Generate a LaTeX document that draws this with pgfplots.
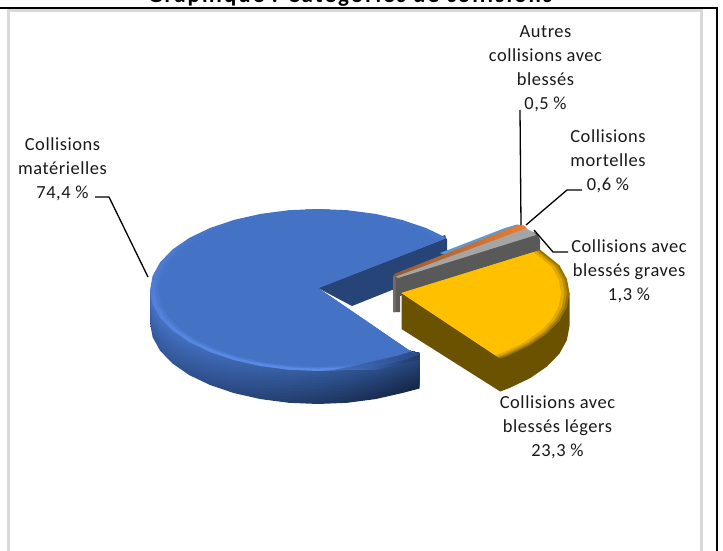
\documentclass[border=0pt]{standalone}
\usepackage{fontspec}
\setmainfont{Carlito}
\newfontfamily\labfont[LetterSpace=3]{Carlito}
\newfontfamily\titfont[LetterSpace=9,BoldFont=Carlito Bold]{Carlito}
\usepackage{pgfplots}
\usepackage{pgfplotstable}
\pgfplotsset{compat=1.18}
\definecolor{bTop}{HTML}{4472C4}
\definecolor{bHi}{HTML}{5A8CE6}
\definecolor{bMid}{HTML}{4D7ED4}
\definecolor{bCut}{HTML}{264478}
\definecolor{bDark}{HTML}{20396B}
\definecolor{sAL}{HTML}{4472C4}
\definecolor{sAM}{HTML}{3A62AC}
\definecolor{sAR}{HTML}{284A80}
\definecolor{sBL}{HTML}{35599C}
\definecolor{sBM}{HTML}{223C70}
\definecolor{sBR}{HTML}{152647}
\definecolor{yTop}{HTML}{FFC000}
\definecolor{ySide}{HTML}{6B5200}
\definecolor{frameGrey}{HTML}{D9D9D9}
\tikzset{lab/.style={font=\labfont\fontsize{18.5}{24}\selectfont, align=center, inner sep=0pt, text=black!90}}
\pgfplotstableread{
dx dy
0 -2
128.7 -52.1
108.0 -62.0
84.0 -70.1
57.5 -76.1
29.2 -79.8
0 -81
-29.2 -79.8
-57.5 -76.1
-84.0 -70.1
-108.0 -62.0
-128.7 -52.1
-145.5 -40.5
-157.9 -27.7
-165.4 -14.1
-168 0
-165.4 14.1
-157.9 27.7
-145.5 40.5
-128.7 52.1
-108.0 62.0
-84.0 70.1
-57.5 76.1
-29.2 79.8
0 81
29.2 79.8
57.5 76.1
84.0 70.1
98.7 65.5
}\blueTop
\pgfplotstableread{
dx dy s
-168 0 1
-165.4 14.1 1
-157.9 27.7 1
-145.5 40.5 1
-128.7 52.1 1
-108.0 62.0 1
-84.0 70.1 1
-57.5 76.1 1
-29.2 79.8 1
0 81 1
29.2 79.8 1
57.5 76.1 1
84.0 70.1 1
101.5 65.5 1
101.5 63 0
-168 0 0
}\blueSide
\pgfplotstableread{
dx dy
0 0
139 -43
157.9 -27.7
165.4 -14.1
168 0
165.4 14.1
157.9 27.7
145.5 40.5
128.7 52.1
108.0 62.0
98.7 65.5
}\yellowTop
\newcommand{\sideLayer}[2]{%
\addplot[draw=none, left color=sAL!#2!sBL, middle color=sAM!#2!sBM, right color=sAR!#2!sBR] table[x expr=318+\thisrow{dx}, y expr=290+\thisrow{dy}+#1*\thisrow{s}] \blueSide;}
\begin{document}
\begin{tikzpicture}
\path[use as bounding box] (0,0) rectangle (723bp,551bp);
\clip (0,0) rectangle (723bp,551bp);
\begin{axis}[
  at={(0,0)}, anchor=south west, scale only axis,
  width=723bp, height=551bp,
  xmin=0, xmax=723, ymin=0, ymax=551, y dir=reverse,
  axis lines=none, clip=false,
  every axis plot/.append style={no markers},
]
\node[anchor=base, inner sep=0pt, font=\titfont\fontsize{23}{26}\selectfont\bfseries] at (axis cs:350,2.5) {Graphique : Catégories de collisions};
% frame
\addplot[frameGrey, line width=2.7bp] coordinates {(8.7,551) (8.7,10.5) (701.7,10.5) (701.7,551)};
\addplot[black, line width=2bp] coordinates {(0,7.7) (717.3,7.7) (717.3,551)};
% blue cut face
\addplot[fill=bCut, draw=none] coordinates {(318,288) (445,235) (447,240) (447,268) (352,306)};
% blue side layers
\sideLayer{33}{0}
\sideLayer{30}{10}
\sideLayer{27}{20}
\sideLayer{24}{30}
\sideLayer{21}{40}
\sideLayer{18}{50}
\sideLayer{15}{60}
\sideLayer{12}{70}
\sideLayer{9}{80}
\sideLayer{6}{90}
\sideLayer{3}{100}
% blue top
\addplot[fill=bTop!60!white, draw=none] coordinates {(305,208.6) (330,208.6) (330,210) (305,210)};
\addplot[draw=none, top color=bTop, middle color=bTop, bottom color=bHi] table[x expr=318+\thisrow{dx}, y expr=290+\thisrow{dy}] \blueTop;
\addplot[draw=none, top color=bTop, middle color=bTop, bottom color=bHi] table[x expr=318+0.985*\thisrow{dx}, y expr=290+0.985*\thisrow{dy}] \blueTop;
\addplot[draw=none, top color=bTop, middle color=bTop, bottom color=bMid] table[x expr=318+0.97*\thisrow{dx}, y expr=290+0.97*\thisrow{dy}] \blueTop;
\addplot[draw=none, fill=bTop] table[x expr=318+0.95*\thisrow{dx}, y expr=290+0.95*\thisrow{dy}] \blueTop;
% rim darkening towards the lower cut
\addplot[draw=none, left color=bTop, right color=bDark] coordinates {(347.2,369.8) (375.5,366.1) (402,360.1) (416.7,355.5) (419.5,355.5) (419.5,360) (402,364) (375.5,370) (347.2,369.8)};
\addplot[draw=none, left color=bTop, right color=bDark!70!bTop] coordinates {(330,370.5) (347.2,369.8) (375.5,366.1) (402,360.1) (416.7,355.5) (410.8,351.6) (397,355.9) (372,361.5) (350,366.5)};
% exploded small slices
\addplot[fill=black!65, draw=none] coordinates {(393,276) (534,232) (538,235) (540,240) (540,252) (400,296) (400,312) (393,312)};
\addplot[fill={rgb,255:red,122;green,106;blue,96}, draw=none] coordinates {(393,276) (395.5,275) (395.5,312) (393,312)};
\addplot[fill={rgb,255:red,91;green,155;blue,213}, draw=none] coordinates {(440,253) (505,228) (517,224.5) (524,225.5) (520,228) (445,255)};
\addplot[draw=none, left color={rgb,255:red,150;green,90;blue,50}, right color={rgb,255:red,237;green,125;blue,49}] coordinates {(394,274) (517,225.5) (525,226) (527,229) (396,277)};
\addplot[fill={rgb,255:red,165;green,165;blue,165}, draw=none] coordinates {(396,276.5) (526,228.5) (533,232) (536,235) (398,278)};
% yellow slice
\addplot[fill=ySide, draw=none] coordinates {(401.5,293) (401.5,329) (500.2,391.5) (509.5,388) (530.2,378.1) (547,366.5) (559.4,353.7) (566.9,340.1) (569.5,326) (569.5,293)};
\addplot[fill=yTop!30!ySide, draw=none] table[x expr=401.5+\thisrow{dx}, y expr=293+\thisrow{dy}] \yellowTop;
\addplot[fill=yTop!55!ySide, draw=none] table[x expr=401.5+0.985*\thisrow{dx}, y expr=293+0.985*\thisrow{dy}] \yellowTop;
\addplot[fill=yTop!80!ySide, draw=none] table[x expr=401.5+0.97*\thisrow{dx}, y expr=293+0.97*\thisrow{dy}] \yellowTop;
\addplot[fill=yTop, draw=none] table[x expr=401.5+0.95*\thisrow{dx}, y expr=293+0.95*\thisrow{dy}] \yellowTop;
% leader lines
\addplot[black, line width=1.3bp] coordinates {(95,197) (109,197) (148,277)};
\addplot[black, line width=1.3bp] coordinates {(520,110) (521,225)};
\addplot[black, line width=1.3bp] coordinates {(582,190) (567,190) (526,225)};
\addplot[black, line width=1.3bp] coordinates {(568,252) (553,252) (534,230)};
% labels
\node[lab] at (axis cs:62.5,169) {Collisions\\matérielles\\74,4 \%};
\node[lab] at (axis cs:545.5,69) {Autres\\collisions avec\\blessés\\0,5 \%};
\node[lab] at (axis cs:608,161) {Collisions\\mortelles\\0,6 \%};
\node[lab] at (axis cs:629,271) {Collisions avec\\blessés graves\\1,3 \%};
\node[lab] at (axis cs:557.5,427) {Collisions avec\\blessés légers\\23,3 \%};
\end{axis}
\end{tikzpicture}
\end{document}
